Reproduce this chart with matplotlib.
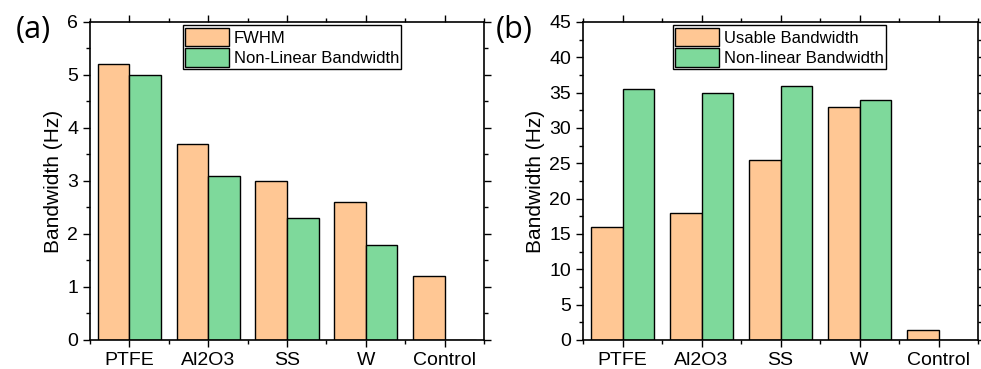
import matplotlib.pyplot as plt
import numpy as np
from matplotlib.ticker import MultipleLocator

plt.rcParams['font.family'] = ['Liberation Sans', 'DejaVu Sans']

materials = ["PTFE", "Al2O3", "SS", "W", "Control"]

# panel (a)
fwhm = [5.2, 3.7, 3.0, 2.6, 1.2]
nonlinear_a = [5.0, 3.1, 2.3, 1.8, 0.0]

# panel (b)
usable = [16.0, 18.0, 25.5, 33.0, 1.4]
nonlinear_b = [35.5, 35.0, 36.0, 34.0, 0.0]

orange = "#FFC794"
green = "#7ED99B"

fig = plt.figure(figsize=(9.81, 3.69), dpi=100)
ax_a = fig.add_axes([0.0917, 0.0786, 0.4017, 0.862])
ax_b = fig.add_axes([0.5943, 0.0786, 0.4027, 0.862])


def draw_panel(ax, s1, s2, labels, ymax, major, legend_x):
    x = np.arange(len(materials))
    w = 0.4
    ax.bar(x - w / 2, s1, w, color=orange, edgecolor="black", linewidth=1.0, label=labels[0])
    ax.bar(x + w / 2, s2, w, color=green, edgecolor="black", linewidth=1.0, label=labels[1])
    ax.set_xlim(-0.5, 4.5)
    ax.set_ylim(0, ymax)
    ax.set_xticks(x)
    ax.set_xticklabels(materials)
    ax.xaxis.set_minor_locator(MultipleLocator(0.5))
    ax.yaxis.set_major_locator(MultipleLocator(major))
    ax.yaxis.set_minor_locator(MultipleLocator(major / 2))
    ax.tick_params(which="both", direction="out", top=True, right=True,
                   labelsize=14, width=1.0)
    ax.tick_params(which="major", length=5)
    ax.tick_params(which="minor", length=3)
    for sp in ax.spines.values():
        sp.set_linewidth(1.2)
    ax.set_ylabel("Bandwidth (Hz)", fontsize=15, labelpad=3)
    leg = ax.legend(loc="upper center", bbox_to_anchor=(legend_x, 0.99),
                    borderaxespad=0, fontsize=12, fancybox=False,
                    edgecolor="black", framealpha=1, handlelength=2.6,
                    handleheight=1.35, labelspacing=0.1, handletextpad=0.3,
                    borderpad=0.15)
    leg.get_frame().set_linewidth(1.0)


draw_panel(ax_a, fwhm, nonlinear_a, ["FWHM", "Non-Linear Bandwidth"], 6, 1, 0.513)
draw_panel(ax_b, usable, nonlinear_b, ["Usable Bandwidth", "Non-linear Bandwidth"], 45, 5, 0.497)

fig.text(0.016, 0.96, "(a)", fontsize=22, family=["Open Sans", "DejaVu Sans"], va="top")
fig.text(0.505, 0.96, "(b)", fontsize=22, family=["Open Sans", "DejaVu Sans"], va="top")

fig.savefig("out.png", dpi=100)
